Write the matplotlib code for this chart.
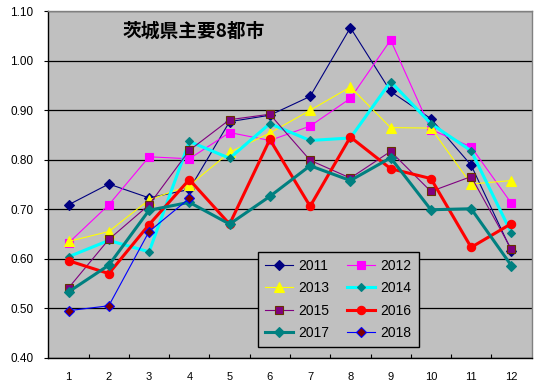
import matplotlib
matplotlib.use('Agg')
import matplotlib.pyplot as plt

plt.rcParams['font.family'] = ['Liberation Sans', 'Noto Sans CJK JP', 'DejaVu Sans']

months = [1, 2, 3, 4, 5, 6, 7, 8, 9, 10, 11, 12]
y_ticks = [0.40, 0.50, 0.60, 0.70, 0.80, 0.90, 1.00, 1.10]

v2011 = [0.709, 0.751, 0.723, 0.740, 0.877, 0.890, 0.928, 1.067, 0.938, 0.883, 0.789, 0.616]
v2012 = [0.632, 0.709, 0.806, 0.802, 0.855, 0.839, 0.868, 0.924, 1.042, 0.861, 0.826, 0.712]
v2013 = [0.635, 0.655, 0.719, 0.748, 0.815, 0.854, 0.900, 0.947, 0.865, 0.864, 0.751, 0.758]
v2014 = [0.604, 0.637, 0.614, 0.837, 0.803, 0.873, 0.839, 0.844, 0.958, 0.873, 0.818, 0.652]
v2015 = [0.541, 0.639, 0.709, 0.819, 0.881, 0.892, 0.799, 0.763, 0.817, 0.736, 0.766, 0.619]
v2016 = [0.596, 0.570, 0.669, 0.760, 0.670, 0.841, 0.706, 0.846, 0.782, 0.762, 0.623, 0.671]
v2017 = [0.533, 0.587, 0.698, 0.714, 0.670, 0.726, 0.788, 0.758, 0.804, 0.699, 0.701, 0.586]
v2018 = [0.495, 0.505, 0.655, 0.722]

fig = plt.figure(figsize=(5.38, 3.86), dpi=100)
ax = fig.add_axes([0.090, 0.0733, 0.898, 0.8974])
ax.set_facecolor('#C0C0C0')

# year: values, line colour, width, marker, marker face, marker edge, marker size
styles = [
    ('2011', v2011, '#000080', 0.8, 'D', '#000080', '#000080', 4.6),
    ('2012', v2012, '#FF00FF', 0.8, 's', '#FF00FF', '#FF00FF', 5.6),
    ('2013', v2013, '#FFFF00', 0.8, '^', '#FFFF00', '#FFFF00', 6.8),
    ('2014', v2014, '#00FFFF', 2.2, 'D', '#008080', '#008080', 4.0),
    ('2015', v2015, '#800080', 0.8, 's', '#800080', '#663300', 5.6),
    ('2016', v2016, '#FF0000', 2.2, 'o', '#FF0000', '#FF0000', 6.0),
    ('2017', v2017, '#008080', 2.2, 'D', '#008080', '#008080', 4.6),
    ('2018', v2018, '#0000FF', 0.8, 'D', '#800000', '#0000FF', 4.6),
]
handles = []
for name, vals, col, lw, mk, mfc, mec, ms in styles:
    h, = ax.plot(months[:len(vals)], vals, color=col, lw=lw, marker=mk,
                 markerfacecolor=mfc, markeredgecolor=mec, markersize=ms,
                 markeredgewidth=0.8, label=name)
    handles.append(h)

ax.set_xlim(0.5, 12.5)
ax.set_ylim(0.40, 1.10)
ax.set_yticks(y_ticks)
ax.set_yticklabels(['%.2f' % t for t in y_ticks], fontsize=8.5)
ax.set_xticks(months)
ax.set_xticklabels([str(m) for m in months], fontsize=8)
ax.set_xticks([m + 0.5 for m in months[:-1]], minor=True)
ax.tick_params(axis='x', which='major', length=0, pad=10)
ax.tick_params(axis='x', which='minor', length=3, direction='in', width=0.8)
ax.tick_params(axis='y', length=3, direction='out', width=0.8, pad=8)
ax.yaxis.grid(True, color='black', lw=0.9)
ax.set_axisbelow(True)

for side in ['left', 'bottom']:
    ax.spines[side].set_color('black')
    ax.spines[side].set_linewidth(1.0)
for side in ['top', 'right']:
    ax.spines[side].set_color('#808080')
    ax.spines[side].set_linewidth(1.0)

ax.text(0.301, 0.943, '茨城県主要8都市', transform=ax.transAxes,
        ha='center', va='center', fontsize=13.5, fontweight='bold',
        family=['Noto Sans CJK JP', 'DejaVu Sans'])

# legend fills column by column, so reorder to read row by row
order = [0, 2, 4, 6, 1, 3, 5, 7]
leg = ax.legend([handles[i] for i in order], [styles[i][0] for i in order],
                ncol=2, loc='upper left', bbox_to_anchor=(258 / 538, 1 - 252 / 386),
                bbox_transform=fig.transFigure, fontsize=10, frameon=True,
                fancybox=False, edgecolor='black', facecolor='#C0C0C0', framealpha=1,
                handlelength=2.0, handletextpad=0.4, columnspacing=1.3,
                labelspacing=0.6, borderpad=0.5, borderaxespad=0)
leg.get_frame().set_linewidth(1.0)

fig.savefig('out.png', dpi=100, facecolor='white')
